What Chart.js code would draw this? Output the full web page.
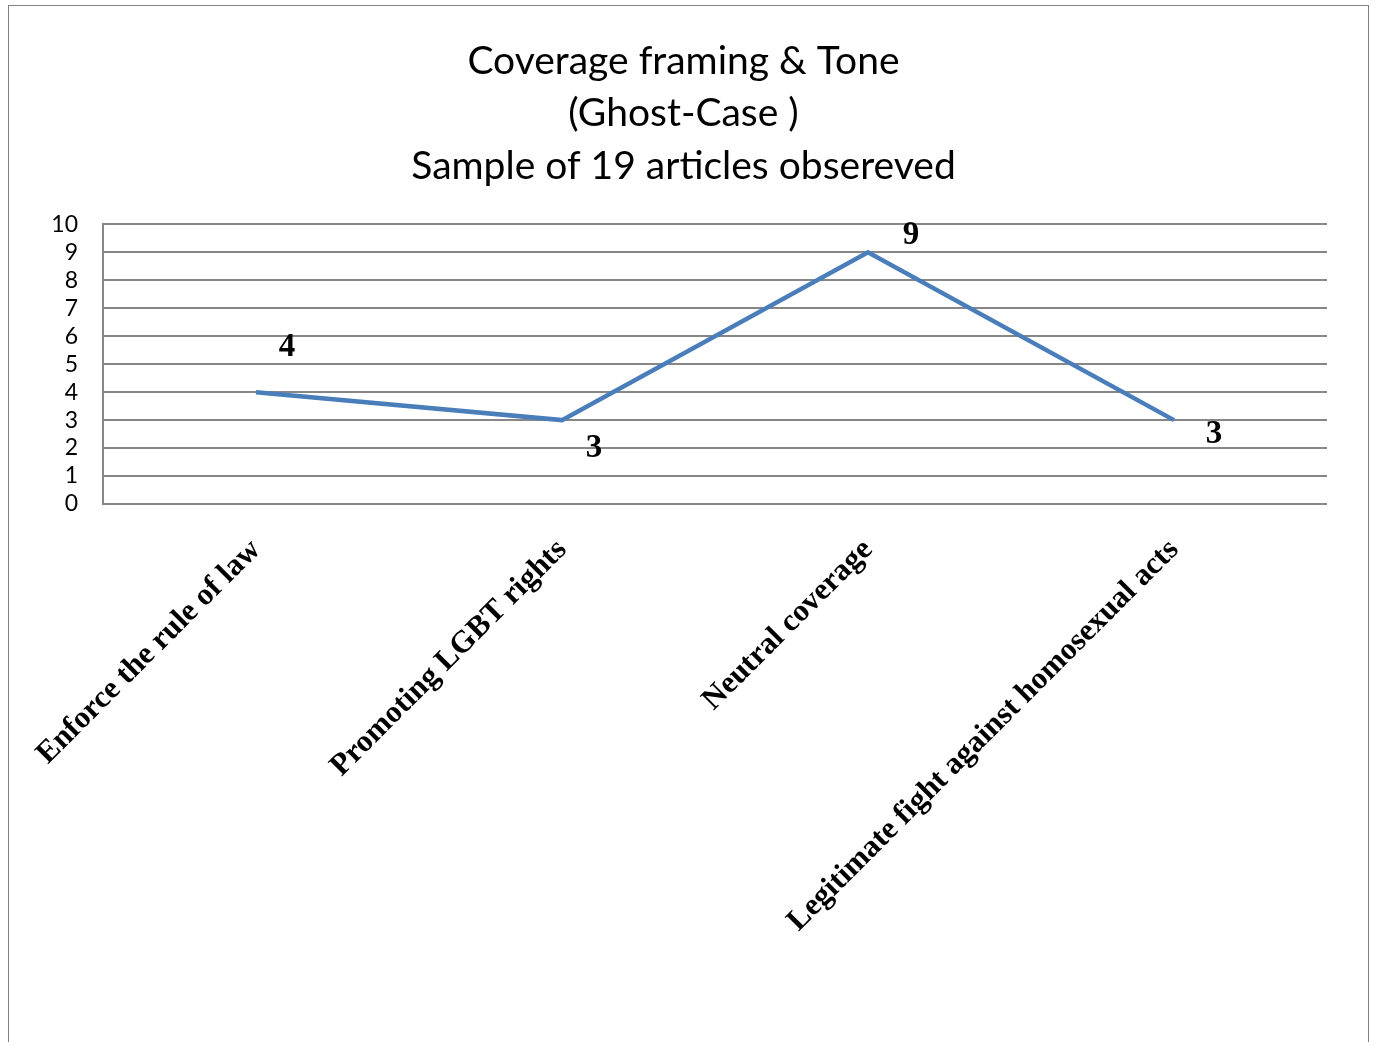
<!DOCTYPE html>
<html>
<head>
<meta charset="utf-8">
<script src="https://cdn.jsdelivr.net/npm/chart.js@4/dist/chart.umd.min.js"></script>
<style>
  html, body { margin: 0; padding: 0; background: #fff; }
  #wrap { position: absolute; left: 0; top: 0; width: 1375px; height: 1042px; }
  #frame { position: absolute; left: 8px; top: 5px; width: 1361px; height: 1050px;
           border: 1px solid #808080; box-sizing: border-box; }
  canvas { position: absolute; left: 0; top: 0; }
</style>
</head>
<body>
<div id="wrap">
  <div id="frame"></div>
  <canvas id="chart" width="1375" height="1042"></canvas>
</div>
<script>
// Framing categories and article counts
const categories = [
  'Enforce the rule of law',
  'Promoting LGBT rights',
  'Neutral coverage',
  'Legitimate fight against homosexual acts'
];
const articleCounts = [4, 3, 9, 3];
const yTicks = [0, 1, 2, 3, 4, 5, 6, 7, 8, 9, 10];
const titleLines = ['Coverage framing & Tone', '(Ghost-Case )', 'Sample of 19 articles obsereved'];

// Value labels next to each point (offsets per point, in px)
const labelOffsets = [[31, -45], [32, 28], [43, -17], [40, 14]];
const valueLabels = {
  id: 'valueLabels',
  afterDatasetsDraw(chart) {
    const ctx = chart.ctx;
    const meta = chart.getDatasetMeta(0);
    ctx.save();
    ctx.font = 'bold 33px "Liberation Serif", "Times New Roman", serif';
    ctx.fillStyle = '#000';
    ctx.textAlign = 'center';
    ctx.textBaseline = 'middle';
    meta.data.forEach((pt, i) => {
      const o = labelOffsets[i];
      ctx.fillText(String(articleCounts[i]), pt.x + o[0], pt.y + o[1]);
    });
    ctx.restore();
  }
};

new Chart(document.getElementById('chart'), {
  type: 'line',
  data: {
    labels: categories,
    datasets: [{
      data: articleCounts,
      borderColor: '#4a7ebb',
      borderWidth: 4.5,
      pointRadius: 0,
      pointHoverRadius: 0,
      tension: 0,
      fill: false
    }]
  },
  options: {
    responsive: false,
    animation: false,
    events: [],
    layout: { padding: { left: 40, right: 48, top: 21, bottom: 0 } },
    plugins: {
      legend: { display: false },
      tooltip: { enabled: false },
      title: {
        display: true,
        text: titleLines,
        color: '#000',
        font: { family: 'Lato, "Open Sans", sans-serif', size: 39, weight: 'normal', lineHeight: 1.345 },
        padding: { top: 14, bottom: 32 }
      }
    },
    scales: {
      x: {
        offset: true,
        grid: { display: false, drawTicks: false },
        border: { display: false },
        ticks: {
          autoSkip: false,
          minRotation: 45,
          maxRotation: 45,
          padding: 28,
          color: '#000',
          font: { family: '"Liberation Serif", "Times New Roman", serif', size: 31, weight: 'bold' }
        },
        afterFit(scale) { scale.height = 538; }
      },
      y: {
        min: 0,
        max: 10,
        afterBuildTicks(scale) { scale.ticks = yTicks.map(v => ({ value: v })); },
        grid: { color: '#878787', lineWidth: 2, drawTicks: false },
        border: { display: true, color: '#878787', width: 2 },
        ticks: {
          autoSkip: false,
          stepSize: 1,
          padding: 25,
          color: '#000',
          font: { family: 'Lato, "Open Sans", sans-serif', size: 23 }
        },
        afterFit(scale) { scale.width = 63; }
      }
    }
  },
  plugins: [valueLabels]
});
</script>
</body>
</html>
